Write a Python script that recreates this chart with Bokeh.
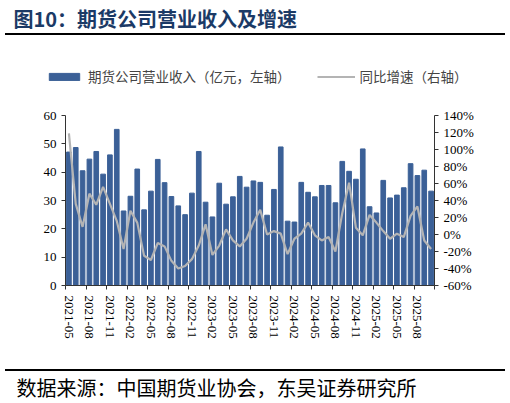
from bokeh.plotting import figure
from bokeh.layouts import column, row
from bokeh.models import (Range1d, LinearAxis, FixedTicker, Legend, LegendItem,
                          PrintfTickFormatter, Div)
from bokeh.core.properties import value
from bokeh.embed import file_html
from bokeh.resources import INLINE

# months 2021-05 .. 2025-10
months = []
for y in range(2021, 2026):
    for m in range(1, 13):
        if (y == 2021 and m < 5) or (y == 2025 and m > 10):
            continue
        months.append("%d-%02d" % (y, m))

# futures companies' revenue, 100m yuan (left axis)
revenue = [47.1, 48.7, 40.5, 44.6, 47.3, 39.3, 46.1, 55.1, 26.3, 31.5, 41.1, 26.7,
           33.3, 44.5, 36.3, 31.4, 28.1, 25.0, 32.6, 47.3, 29.4, 24.2, 36.1, 28.7,
           31.3, 38.5, 34.7, 36.9, 36.4, 24.8, 33.9, 48.9, 22.7, 22.4, 36.4, 32.9,
           31.3, 35.3, 35.3, 29.2, 43.8, 40.3, 37.5, 48.2, 27.8, 25.6, 37.1, 30.9,
           31.9, 34.5, 43.0, 38.8, 40.7, 33.3]

# yoy growth, % (right axis)
growth = [119, 36, 9, 48, 35, 56, 36, 16, -17, 28, 14, -25,
          -30, -10, -14, -31, -40, -37, -29, -13, 12, -24, -13, 6,
          -7, -14, -5, 14, 29, 0, 4, 1, -23, -5, 1, 14,
          -1, -7, -3, -20, 25, 61, 8, -1, 23, 14, 4, -5,
          1, -3, 22, 33, -7, -17]

bar_label = "期货公司营业收入（亿元，左轴）"
line_label = "同比增速（右轴）"
title_text = "图10：期货公司营业收入及增速"
source_text = "数据来源：中国期货业协会，东吴证券研究所"

idx = list(range(len(months)))

BLUE = "#3B6097"
GREY = "#B4B4B4"
AXIS = "#333333"
SERIF = "Liberation Serif"
CJK = "Noto Sans CJK SC"
W = 510


def blank(h, top):
    # a figure whose data space is the page pixel space (y down)
    f = figure(width=W, height=h, x_range=Range1d(0, W), y_range=Range1d(top + h, top),
               x_axis_type=None, y_axis_type=None, output_backend="svg",
               toolbar_location=None, min_border=0)
    f.outline_line_color = None
    return f


def rule(top_gap):
    # black horizontal rule, 2px high
    return Div(text="", width=500, height=2, margin=(top_gap, 0, 0, 5),
               styles={"background-color": "black"})


# header: title / rule / legend
head_a = blank(33, 0)
head_a.text(x=[13], y=[18], text=[title_text], text_font=value(CJK), text_font_size="20px",
            text_font_style="bold", text_color="#1B3A66", text_baseline="middle")

head_b = blank(65, 35)
# hidden copies of the series, only used for the legend glyphs
kb = head_b.vbar(x=idx, top=revenue, width=0.68, fill_color=BLUE, line_color=BLUE, visible=False)
kl = head_b.line(x=idx, y=growth, line_color=GREY, line_width=2, visible=False)
legend = Legend(items=[LegendItem(label=bar_label, renderers=[kb]),
                       LegendItem(label=line_label, renderers=[kl])],
                orientation="horizontal", location=(45, 14),
                glyph_width=38, glyph_height=9, label_height=9, label_standoff=5, spacing=26,
                label_text_font=CJK, label_text_font_size="13.5px",
                inactive_fill_alpha=0,
                border_line_color=None, background_fill_alpha=0, padding=0, margin=0)
head_b.add_layout(legend)

# main chart
p = figure(width=W, height=262, x_range=Range1d(-0.5, 53.5), y_range=Range1d(0, 60),
           output_backend="svg", toolbar_location=None,
           min_border_left=65, min_border_right=76, min_border_top=15, min_border_bottom=77)
p.outline_line_color = None
p.xgrid.visible = False
p.ygrid.visible = False

p.vbar(x=idx, top=revenue, width=0.68, fill_color=BLUE, line_color=BLUE)
p.extra_y_ranges = {"pct": Range1d(-60, 140)}
p.line(x=idx, y=growth, y_range_name="pct", line_color=GREY, line_width=2.2)

ly = p.left[0]
ly.ticker = FixedTicker(ticks=list(range(0, 61, 10)))

ry = LinearAxis(y_range_name="pct", ticker=FixedTicker(ticks=list(range(-60, 141, 20))),
                formatter=PrintfTickFormatter(format="%d%%"))
p.add_layout(ry, "right")

for ax in (ly, ry):
    ax.major_label_text_font = SERIF
    ax.major_label_text_font_size = "13px"
    ax.major_label_text_color = "black"
    ax.axis_line_color = AXIS
    ax.major_tick_line_color = AXIS
    ax.major_tick_out = 4
    ax.major_tick_in = 0
    ax.minor_tick_out = 0
    ax.minor_tick_in = 0
    ax.major_label_standoff = 5

# bottom axis: labels every 3 months, tick marks between categories
bx = p.below[0]
bx.ticker = FixedTicker(ticks=list(range(0, 54, 3)),
                        minor_ticks=[t - 0.5 for t in range(0, 55, 3)])
bx.major_label_overrides = {i: months[i] for i in range(0, 54, 3)}
bx.major_label_orientation = "vertical"
bx.major_label_text_font = SERIF
bx.major_label_text_font_size = "13px"
bx.major_label_text_color = "black"
bx.axis_line_color = AXIS
bx.major_tick_out = 0
bx.major_tick_in = 0
bx.minor_tick_line_color = AXIS
bx.minor_tick_out = 4
bx.minor_tick_in = 0
bx.major_label_standoff = 6

# footer: source
foot = blank(32, 371)
foot.text(x=[16], y=[387], text=[source_text], text_font=value(CJK), text_font_size="20px",
          text_color="black", text_baseline="middle")

# rows around header/footer keep their frames from being aligned with the chart's
layout = column(row(head_a), rule(0), row(head_b), p, rule(7), row(foot), spacing=0)
open("out.html", "w").write(file_html(layout, INLINE))
